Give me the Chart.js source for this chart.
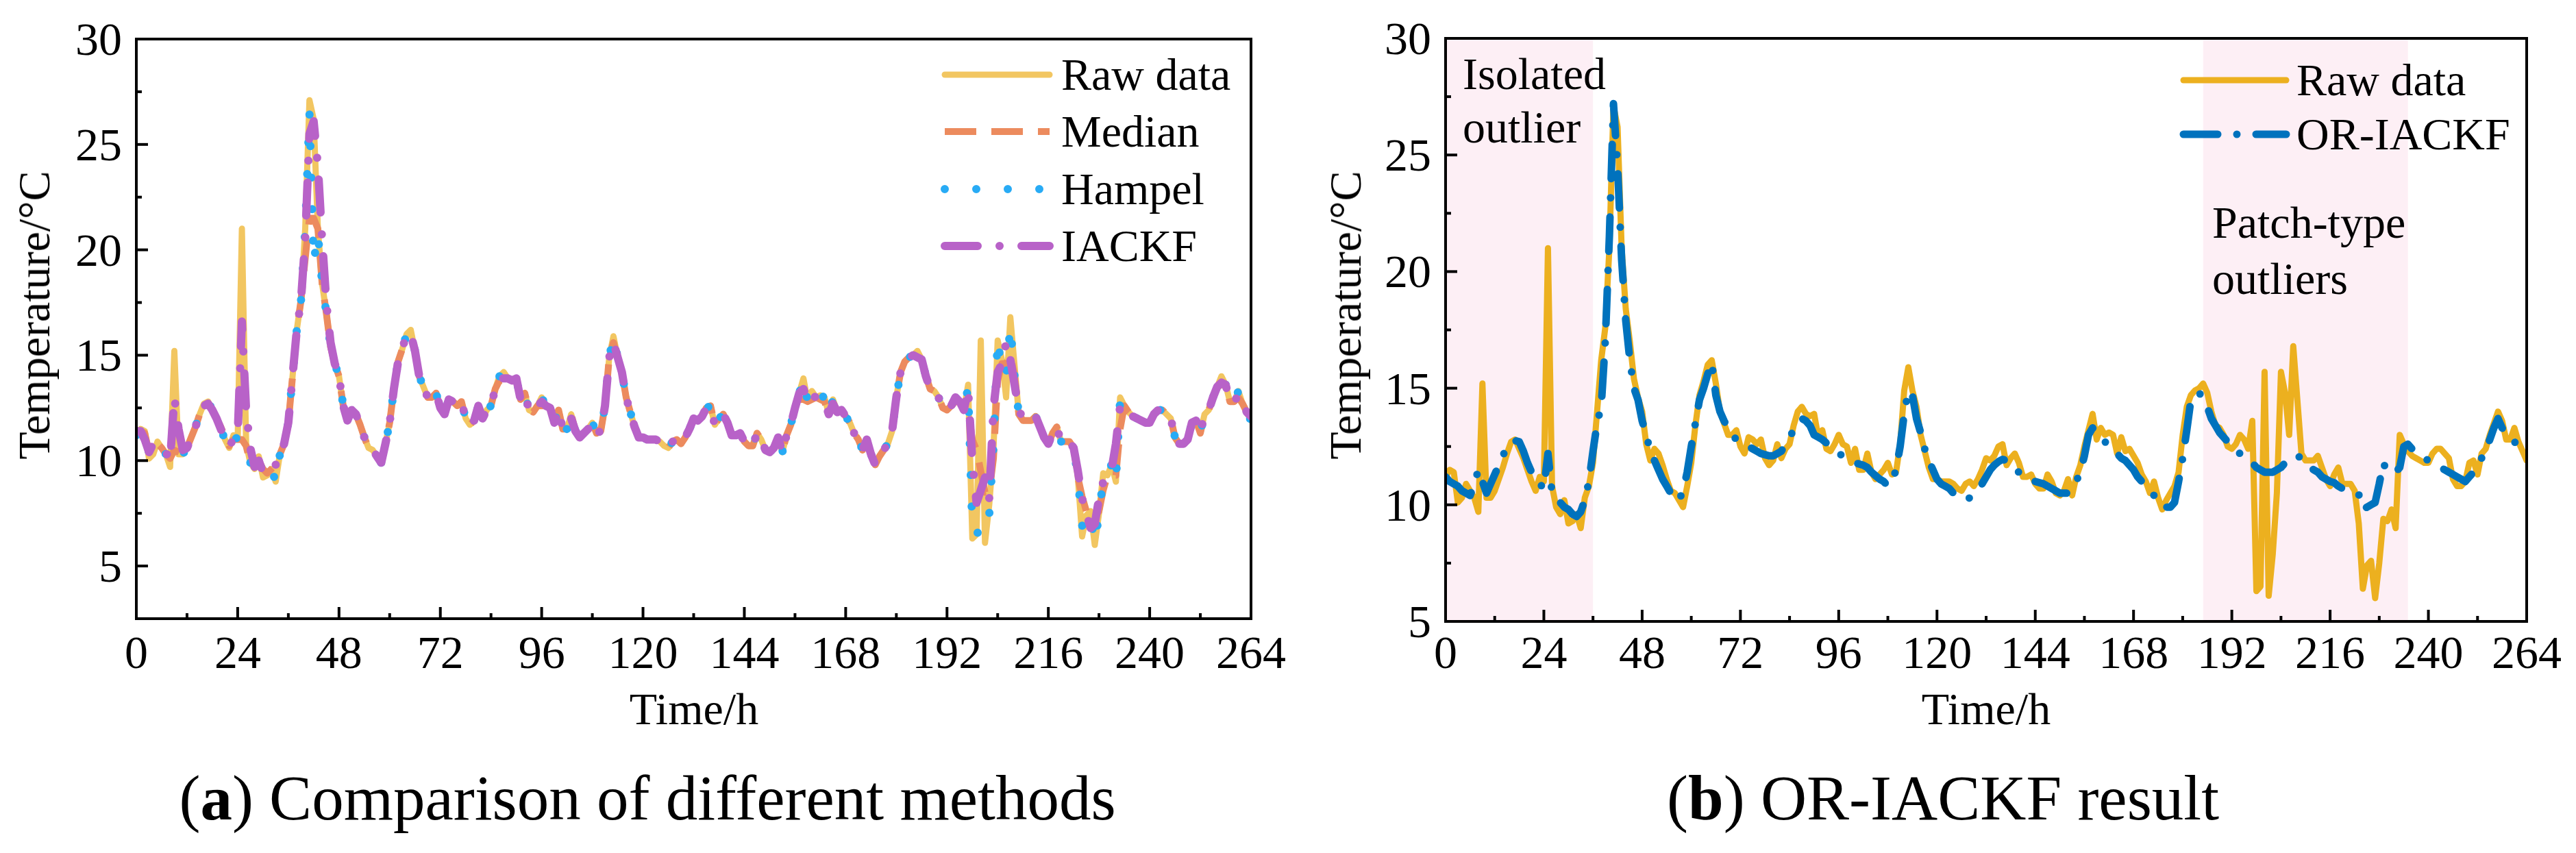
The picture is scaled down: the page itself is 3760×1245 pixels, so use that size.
<!DOCTYPE html>
<html>
<head>
<meta charset="utf-8">
<script src="https://cdn.jsdelivr.net/npm/chart.js@4.4.1/dist/chart.umd.min.js"></script>
<style>
  html, body { margin: 0; padding: 0; background: #fff; }
  #page { position: relative; width: 3760px; height: 1245px; overflow: hidden; background: #fff; }
  canvas { position: absolute; top: 0; }
  .txt { position: absolute; font-family: "Liberation Serif", serif; color: #000; white-space: nowrap; line-height: 1; }
  .ytitle { transform: translate(-50%, -50%) rotate(-90deg); font-size: 66px; }
  .xtitle { transform: translateX(-50%); font-size: 66px; }
  .caption { transform: translateX(-50%); font-size: 93px; }
  .note { font-size: 66px; }
</style>
</head>
<body>
<div id="page">
  <canvas id="chartA" width="1880" height="1245" style="left:0;width:1880px;height:1245px"></canvas>
  <canvas id="chartB" width="1880" height="1245" style="left:1880px;width:1880px;height:1245px"></canvas>

  <div class="txt ytitle" style="left:50px;top:460px">Temperature/°C</div>
  <div class="txt xtitle" style="left:1013px;top:1002px">Time/h</div>
  <div class="txt caption" style="left:945px;top:1118px">(<b>a</b>) Comparison of different methods</div>

  <div class="txt ytitle" style="left:1964px;top:460px">Temperature/°C</div>
  <div class="txt xtitle" style="left:2899px;top:1002px">Time/h</div>
  <div class="txt caption" style="left:2836px;top:1118px">(<b>b</b>) OR-IACKF result</div>

  <div class="txt note" style="left:2135px;top:75px">Isolated</div>
  <div class="txt note" style="left:2135px;top:153px">outlier</div>
  <div class="txt note" style="left:3229px;top:292px">Patch-type</div>
  <div class="txt note" style="left:3229px;top:374px">outliers</div>
</div>
<script>
// hourly samples, 0 .. 264 h
var hours = [];
for (var h = 0; h <= 264; h++) hours.push(h);

var xMajor = [0, 24, 48, 72, 96, 120, 144, 168, 192, 216, 240, 264];
var xMinor = [12, 36, 60, 84, 108, 132, 156, 180, 204, 228, 252];
var yMajor = [5, 10, 15, 20, 25, 30];
var yMinor = [7.5, 12.5, 17.5, 22.5, 27.5];

// outlier regions marked in panel (b), in hours
var outlierBands = [[0, 36], [185, 235]];

var rawData = [
  11.2, 11.5, 11.4, 10.1, 10.3, 10.9, 10.6, 10.3, 9.7, 15.2,
  10.3, 10.3, 10.6, 11.1, 11.6, 12.2, 12.7, 12.8, 12.4, 12.0,
  11.5, 11.0, 10.6, 11.2, 11.0, 21.0, 10.8, 9.9, 9.6, 10.2,
  9.2, 9.3, 9.6, 9.0, 10.3, 10.8, 11.8, 14.0, 16.2, 17.6,
  21.0, 27.1, 26.2, 21.0, 18.4, 17.0, 15.4, 14.6, 14.0, 12.6,
  11.9, 12.4, 12.2, 11.7, 11.1, 10.6, 10.5, 10.2, 9.9, 10.8,
  11.8, 13.4, 14.7, 15.3, 16.0, 16.2, 15.2, 14.0, 13.5, 13.0,
  13.0, 13.2, 12.5, 12.2, 12.9, 12.8, 12.6, 12.8, 12.0, 11.7,
  11.9, 12.6, 12.0, 12.4, 12.6, 13.4, 14.0, 14.2, 13.9, 13.8,
  13.9, 12.9, 13.2, 12.4, 12.3, 12.6, 13.0, 12.6, 12.5, 11.8,
  12.4, 11.5, 11.5, 12.2, 11.4, 11.1, 11.3, 11.5, 11.8, 11.3,
  11.4, 12.6, 14.9, 15.9, 14.9, 14.2, 13.0, 12.3, 11.6, 11.1,
  11.1, 11.0, 11.0, 11.0, 10.9, 10.7, 10.6, 10.9, 11.0, 10.8,
  11.1, 11.5, 12.0, 11.9, 12.1, 12.5, 12.6, 11.7, 12.0, 12.2,
  11.8, 11.2, 11.2, 11.3, 10.9, 10.7, 10.7, 11.3, 11.0, 10.5,
  10.4, 10.6, 11.1, 10.4, 11.2, 11.7, 12.5, 13.2, 13.9, 12.8,
  13.3, 13.0, 13.1, 13.0, 12.2, 12.9, 12.3, 12.4, 12.1, 11.8,
  11.3, 11.0, 10.5, 11.0, 10.3, 9.8, 10.2, 10.5, 10.8, 11.4,
  13.0, 14.2, 14.7, 14.9, 15.0, 15.2, 14.8, 14.0, 13.4, 13.3,
  13.0, 12.5, 12.4, 12.6, 13.0, 12.8, 12.4, 13.6, 6.3, 6.5,
  15.7, 6.1, 7.9, 10.5, 15.7, 14.8, 13.0, 16.8, 14.5, 12.2,
  11.9, 11.9, 11.9, 12.1, 11.6, 11.1, 10.8, 11.3, 11.6, 10.9,
  10.9, 10.9, 10.6, 9.2, 6.4, 7.4, 7.6, 6.0, 7.5, 9.4,
  9.3, 9.8, 9.0, 13.0, 12.6, 12.3, 12.1, 12.0, 11.9, 11.8,
  11.8, 12.2, 12.4, 12.4, 12.2, 12.0, 11.1, 10.8, 10.8, 11.0,
  11.8, 11.9, 11.3, 12.2, 12.4, 13.0, 13.5, 14.0, 13.6, 12.8,
  12.8, 13.3, 12.7, 12.3, 11.9
];

var medianData = [
  11.2, 11.4, 11.3, 10.4, 10.4, 10.8, 10.6, 10.3, 10.1, 10.5,
  10.4, 10.3, 10.6, 11.1, 11.6, 12.2, 12.6, 12.7, 12.4, 12.0,
  11.6, 11.1, 10.7, 11.0, 11.0, 11.0, 10.7, 9.9, 9.7, 10.0,
  9.6, 9.4, 9.6, 9.8, 10.3, 10.8, 11.8, 14.0, 16.2, 17.6,
  19.6, 21.5, 21.5, 21.0, 18.4, 17.0, 15.4, 14.6, 14.0, 12.6,
  11.9, 12.4, 12.2, 11.7, 11.1, 10.6, 10.5, 10.2, 9.9, 10.8,
  11.8, 13.4, 14.7, 15.3, 15.3, 15.3, 15.2, 14.0, 13.5, 13.0,
  13.0, 13.2, 12.5, 12.2, 12.9, 12.8, 12.6, 12.8, 12.0, 11.7,
  11.9, 12.6, 12.0, 12.4, 12.6, 13.4, 13.8, 13.8, 13.8, 13.8,
  13.8, 12.9, 13.2, 12.4, 12.3, 12.6, 12.6, 12.6, 12.5, 11.8,
  12.4, 11.5, 11.5, 12.2, 11.4, 11.1, 11.3, 11.5, 11.8, 11.3,
  11.4, 12.6, 14.9, 15.6, 14.9, 14.2, 13.0, 12.3, 11.6, 11.1,
  11.1, 11.0, 11.0, 11.0, 10.9, 10.7, 10.6, 10.9, 11.0, 10.8,
  11.1, 11.5, 12.0, 11.9, 12.1, 12.5, 12.6, 11.7, 12.0, 12.2,
  11.8, 11.2, 11.2, 11.3, 10.9, 10.7, 10.7, 11.3, 11.0, 10.5,
  10.4, 10.6, 11.1, 10.4, 11.2, 11.7, 12.5, 12.9, 12.9, 12.8,
  12.9, 13.0, 12.9, 12.8, 12.2, 12.6, 12.3, 12.4, 12.1, 11.8,
  11.3, 11.0, 10.5, 11.0, 10.3, 9.8, 10.2, 10.5, 10.8, 11.4,
  13.0, 14.2, 14.7, 14.9, 15.0, 15.0, 14.8, 14.0, 13.4, 13.3,
  13.0, 12.5, 12.4, 12.6, 12.8, 12.8, 12.4, 12.4, 11.0, 10.5,
  9.5, 8.5, 8.5, 10.1, 13.8, 14.6, 14.6, 15.0, 14.0, 12.2,
  11.9, 11.9, 11.9, 12.1, 11.6, 11.1, 10.8, 11.3, 11.6, 10.9,
  10.9, 10.9, 10.6, 9.2, 8.3, 7.6, 7.4, 7.4, 7.6, 8.6,
  9.3, 9.3, 9.3, 11.5, 12.6, 12.3, 12.1, 12.0, 11.9, 11.8,
  11.8, 12.2, 12.4, 12.4, 12.2, 12.0, 11.1, 10.8, 10.8, 11.0,
  11.8, 11.9, 11.3, 12.2, 12.4, 13.0, 13.5, 13.6, 13.6, 12.8,
  12.8, 13.0, 12.7, 12.3, 11.9
];

var hampelData = [
  11.2, 11.5, 11.2, 10.4, 10.9, 10.9, 10.6, 10.3, 10.0, 10.5,
  10.3, 10.3, 10.6, 11.1, 11.6, 12.2, 12.7, 12.8, 12.4, 12.0,
  11.5, 11.0, 10.6, 11.2, 11.0, 11.0, 10.8, 9.9, 9.6, 10.2,
  9.2, 9.3, 9.6, 9.0, 10.3, 10.8, 11.8, 14.0, 16.2, 17.6,
  21.0, 26.5, 19.4, 20.8, 18.4, 17.0, 15.4, 14.6, 14.0, 12.6,
  11.9, 12.4, 12.2, 11.7, 11.1, 10.6, 10.5, 10.2, 9.9, 10.8,
  11.8, 13.4, 14.7, 15.3, 16.0, 16.2, 15.2, 14.0, 13.5, 13.0,
  13.0, 13.2, 12.5, 12.2, 12.9, 12.8, 12.6, 12.8, 12.0, 11.7,
  11.9, 12.6, 12.0, 12.4, 12.6, 13.4, 14.0, 14.2, 13.9, 13.8,
  13.9, 12.9, 13.2, 12.4, 12.3, 12.6, 13.0, 12.6, 12.5, 11.8,
  12.4, 11.5, 11.5, 12.2, 11.4, 11.1, 11.3, 11.5, 11.8, 11.3,
  11.4, 12.6, 14.9, 15.9, 14.9, 14.2, 13.0, 12.3, 11.6, 11.1,
  11.1, 11.0, 11.0, 11.0, 10.9, 10.7, 10.6, 10.9, 11.0, 10.8,
  11.1, 11.5, 12.0, 11.9, 12.1, 12.5, 12.6, 11.7, 12.0, 12.2,
  11.8, 11.2, 11.2, 11.3, 10.9, 10.7, 10.7, 11.3, 11.0, 10.5,
  10.4, 10.6, 11.1, 10.4, 11.2, 11.7, 12.5, 13.2, 13.9, 12.8,
  13.3, 13.0, 13.1, 13.0, 12.2, 12.9, 12.3, 12.4, 12.1, 11.8,
  11.3, 11.0, 10.5, 11.0, 10.3, 9.8, 10.2, 10.5, 10.8, 11.4,
  13.0, 14.2, 14.7, 14.9, 15.0, 15.2, 14.8, 14.0, 13.4, 13.3,
  13.0, 12.5, 12.4, 12.6, 13.0, 12.8, 12.4, 13.5, 6.7, 6.5,
  6.8, 6.6, 7.4, 10.7, 15.8, 14.2, 14.0, 16.4, 14.0, 12.2,
  11.9, 11.9, 11.9, 12.1, 11.6, 11.1, 10.8, 11.3, 11.6, 10.9,
  10.9, 10.9, 10.6, 9.2, 6.9, 7.5, 7.4, 6.1, 7.4, 9.2,
  9.6, 9.8, 9.0, 12.9, 12.6, 12.3, 12.1, 12.0, 11.9, 11.8,
  11.8, 12.2, 12.4, 12.4, 12.2, 12.0, 11.1, 10.8, 10.8, 11.0,
  11.8, 11.9, 11.3, 12.2, 12.4, 13.0, 13.5, 14.0, 13.6, 12.8,
  12.8, 13.3, 12.7, 12.3, 11.9
];

var iackfData = [
  11.4, 11.4, 11.0, 10.4, 10.8, 10.8, 10.6, 10.4, 10.0, 13.0,
  11.5, 10.5, 10.6, 11.1, 11.6, 12.2, 12.6, 12.7, 12.4, 12.0,
  11.5, 11.0, 10.7, 11.0, 11.2, 16.6, 12.4, 10.6, 9.7, 10.0,
  9.4, 9.4, 9.6, 9.8, 10.3, 10.8, 11.8, 14.0, 16.2, 17.6,
  20.5, 25.5, 26.1, 24.0, 20.5, 17.5, 15.6, 14.6, 14.0, 12.6,
  11.9, 12.4, 12.2, 11.7, 11.1, 10.6, 10.5, 10.2, 9.9, 10.8,
  11.8, 13.4, 14.7, 15.3, 16.0, 16.0, 15.2, 14.0, 13.5, 13.0,
  13.0, 13.2, 12.5, 12.2, 12.9, 12.8, 12.6, 12.8, 12.0, 11.7,
  11.9, 12.6, 12.0, 12.4, 12.6, 13.4, 13.9, 13.9, 13.9, 13.8,
  13.9, 12.9, 13.2, 12.4, 12.3, 12.6, 12.8, 12.6, 12.5, 11.8,
  12.4, 11.5, 11.5, 12.0, 11.4, 11.1, 11.3, 11.5, 11.8, 11.3,
  11.4, 12.6, 14.9, 15.6, 14.9, 14.2, 13.0, 12.3, 11.6, 11.1,
  11.1, 11.0, 11.0, 11.0, 10.9, 10.7, 10.6, 10.9, 11.0, 10.8,
  11.1, 11.5, 12.0, 11.9, 12.1, 12.5, 12.5, 11.7, 12.0, 12.2,
  11.8, 11.2, 11.2, 11.3, 10.9, 10.7, 10.7, 11.3, 11.0, 10.5,
  10.4, 10.6, 11.1, 10.4, 11.2, 11.7, 12.5, 13.2, 13.4, 12.8,
  13.1, 13.0, 13.0, 12.8, 12.2, 12.7, 12.3, 12.4, 12.1, 11.8,
  11.3, 11.0, 10.5, 11.0, 10.3, 9.8, 10.2, 10.5, 10.8, 11.4,
  13.0, 14.2, 14.7, 14.9, 15.0, 14.9, 14.8, 14.0, 13.4, 13.3,
  13.0, 12.5, 12.4, 12.6, 13.0, 12.8, 12.4, 13.4, 10.0, 8.0,
  8.6, 9.2, 8.2, 12.5, 14.2, 14.6, 15.6, 14.8, 13.6, 12.4,
  12.0, 11.9, 11.9, 12.1, 11.6, 11.1, 10.8, 11.3, 11.6, 10.9,
  10.9, 10.9, 10.6, 9.5, 8.2, 7.5, 6.8, 7.0, 8.2, 9.0,
  9.3, 9.6, 10.8, 12.6, 12.6, 12.3, 12.1, 12.0, 11.9, 11.8,
  11.8, 12.2, 12.4, 12.4, 12.2, 12.0, 11.1, 10.8, 10.8, 11.0,
  11.8, 11.9, 11.3, 12.2, 12.4, 13.0, 13.5, 13.7, 13.6, 12.8,
  12.8, 13.1, 12.7, 12.3, 12.1
];

var orIackfData = [
  11.2, 11.0, 10.9, 10.8, 10.6, 10.5, 10.4, 10.9, 11.5, 11.0,
  10.5, 10.9, 11.3, 11.7, 12.1, 12.5, 12.7, 12.75, 12.7, 12.3,
  11.8, 11.4, 11.0, 10.9, 10.7, 12.2, 10.5, 10.3, 10.1, 9.9,
  9.8, 9.6, 9.5, 9.7, 10.2, 11.0, 12.3, 13.5, 14.2, 17.0,
  21.5, 27.2, 24.5, 20.5, 17.9, 16.2, 15.0, 14.5, 13.6, 13.0,
  12.3, 11.9, 11.5, 11.1, 10.8, 10.5, 10.2, 10.2, 10.6, 11.4,
  12.5, 13.5, 14.5, 15.0, 15.6, 16.1, 14.7, 14.0, 13.6, 13.3,
  13.0, 12.8, 12.7, 12.6, 12.5, 12.4, 12.3, 12.2, 12.15, 12.1,
  12.1, 12.2, 12.3, 12.6, 12.9, 13.2, 13.5, 13.7, 13.6, 13.4,
  13.0, 12.9, 12.8, 12.65, 12.5, 12.35, 12.2, 12.1, 12.0, 11.9,
  11.8, 11.75, 11.7, 11.6, 11.4, 11.25, 11.1, 11.0, 10.8, 11.0,
  11.5, 12.5, 13.9, 14.9, 14.7, 13.7, 13.1, 12.4, 11.9, 11.5,
  11.1, 10.9, 10.8, 10.7, 10.5, 10.4, 10.3, 10.2, 10.3, 10.5,
  10.7, 10.9, 11.2, 11.5, 11.7, 11.85, 11.95, 11.9, 11.7, 11.5,
  11.4, 11.3, 11.2, 11.1, 11.0, 10.95, 10.9, 10.8, 10.7, 10.6,
  10.5, 10.5, 10.5, 10.7, 11.0, 11.4, 12.1, 13.0, 13.3, 13.0,
  12.8, 12.7, 12.6, 12.4, 12.2, 12.0, 11.9, 11.7, 11.5, 11.2,
  11.0, 10.8, 10.6, 10.4, 10.1, 9.9, 9.9, 9.9, 10.1, 11.0,
  12.0, 13.2, 14.5, 14.7, 14.8, 14.6, 14.2, 13.7, 13.4, 13.1,
  12.9, 12.7, 12.5, 12.3, 12.2, 12.1, 12.0, 11.8, 11.6, 11.5,
  11.4, 11.4, 11.4, 11.5, 11.6, 11.8, 12.0, 12.1, 12.1, 12.0,
  11.8, 11.6, 11.5, 11.4, 11.2, 11.1, 11.0, 10.95, 10.8, 10.7,
  10.6, 10.55, 10.5, 10.45, 9.8, 9.9, 10.0, 10.1, 10.9, 11.8,
  11.4, 11.4, 11.4, 11.6, 12.5, 12.6, 12.4, 12.3, 12.15, 12.0,
  11.9, 11.8, 11.7, 11.6, 11.5, 11.4, 11.3, 11.2, 11.1, 11.0,
  11.2, 11.4, 11.7, 12.0, 12.4, 12.8, 13.3, 13.7, 13.3, 13.0,
  12.85, 12.7, 12.55, 12.4, 12.3
];

var FONT = '"Liberation Serif", serif';

// box, inward ticks, tick labels, shaded bands and the in-plot legend
var framePlugin = {
  id: 'frame',
  beforeDatasetsDraw: function(chart, args, o) {
    var ctx = chart.ctx, a = chart.chartArea, xs = chart.scales.x;
    ctx.save();
    ctx.fillStyle = '#fdeff5';
    (o.bands || []).forEach(function(b) {
      var x1 = xs.getPixelForValue(b[0]), x2 = xs.getPixelForValue(b[1]);
      ctx.fillRect(x1, a.top, x2 - x1, a.bottom - a.top);
    });
    ctx.restore();
  },
  afterDatasetsDraw: function(chart, args, o) {
    var ctx = chart.ctx, a = chart.chartArea, xs = chart.scales.x, ys = chart.scales.y;
    ctx.save();
    ctx.setLineDash([]);
    ctx.strokeStyle = '#000';
    ctx.lineWidth = 4;
    ctx.lineCap = 'butt';
    ctx.strokeRect(a.left, a.top, a.right - a.left, a.bottom - a.top);

    function tick(x1, y1, x2, y2) {
      ctx.beginPath(); ctx.moveTo(x1, y1); ctx.lineTo(x2, y2); ctx.stroke();
    }
    xMajor.forEach(function(v) { var p = xs.getPixelForValue(v); tick(p, a.bottom, p, a.bottom - 17); });
    xMinor.forEach(function(v) { var p = xs.getPixelForValue(v); tick(p, a.bottom, p, a.bottom - 8); });
    yMajor.forEach(function(v) { var p = ys.getPixelForValue(v); tick(a.left, p, a.left + 17, p); });
    yMinor.forEach(function(v) { var p = ys.getPixelForValue(v); tick(a.left, p, a.left + 8, p); });

    ctx.fillStyle = '#000';
    ctx.font = '68px ' + FONT;
    ctx.textBaseline = 'alphabetic';
    ctx.textAlign = 'center';
    xMajor.forEach(function(v) { ctx.fillText(String(v), xs.getPixelForValue(v), 975); });
    ctx.textAlign = 'right';
    yMajor.forEach(function(v) { ctx.fillText(String(v), a.left - 21, ys.getPixelForValue(v) + 23); });

    // legend
    var lg = o.legend;
    ctx.font = '66px ' + FONT;
    ctx.textAlign = 'left';
    chart.data.datasets.forEach(function(ds, i) {
      var ry = lg.rows[i];
      ctx.save();
      ctx.strokeStyle = ds.borderColor;
      ctx.lineWidth = ds.borderWidth;
      ctx.lineCap = ds.borderCapStyle;
      ctx.setLineDash(ds.borderDash || []);
      ctx.beginPath(); ctx.moveTo(lg.x1, ry); ctx.lineTo(lg.x2, ry); ctx.stroke();
      ctx.restore();
      ctx.fillText(ds.label, lg.tx, ry + 22);
    });
    ctx.restore();
  }
};

function line(label, data, color, width, dash, cap, order) {
  return {
    label: label, data: data, borderColor: color, borderWidth: width,
    borderDash: dash, borderCapStyle: cap, borderJoinStyle: 'round',
    pointRadius: 0, tension: 0, fill: false, order: order
  };
}

function options(pad, yMin, frame) {
  return {
    responsive: false,
    animation: false,
    layout: { padding: pad },
    plugins: { legend: { display: false }, tooltip: { enabled: false }, frame: frame },
    scales: {
      x: { type: 'linear', display: false, min: 0, max: 264 },
      y: { type: 'linear', display: false, min: yMin, max: 30 }
    }
  };
}

function draw() {
  new Chart(document.getElementById('chartA'), {
    type: 'line',
    data: {
      labels: hours,
      datasets: [
        line('Raw data', rawData, '#f2c661', 9, [], 'round', 4),
        line('Median', medianData, '#ec8b5e', 10, [46, 22], 'butt', 3),
        line('Hampel', hampelData, '#28abf5', 12, [0, 46], 'round', 2),
        line('IACKF', iackfData, '#b862c8', 12, [48, 32, 0, 32], 'round', 1)
      ]
    },
    options: options({ left: 199, right: 54, top: 57, bottom: 342 }, 2.5,
      { bands: [], legend: { x1: 1379, x2: 1532, tx: 1549, rows: [109, 192, 276, 359] } }),
    plugins: [framePlugin]
  });

  new Chart(document.getElementById('chartB'), {
    type: 'line',
    data: {
      labels: hours,
      datasets: [
        line('Raw data', rawData, '#ecb01f', 9, [], 'round', 2),
        line('OR-IACKF', orIackfData, '#0072bd', 11, [50, 28, 0, 28], 'round', 1)
      ]
    },
    options: options({ left: 230, right: 72, top: 56, bottom: 338 }, 5,
      { bands: outlierBands, legend: { x1: 1307, x2: 1457, tx: 1472, rows: [117, 196] } }),
    plugins: [framePlugin]
  });
}

if (document.fonts && document.fonts.load) {
  Promise.all([
    document.fonts.load('68px "Liberation Serif"'),
    document.fonts.load('bold 68px "Liberation Serif"')
  ]).then(draw, draw);
} else {
  draw();
}
</script>
</body>
</html>
